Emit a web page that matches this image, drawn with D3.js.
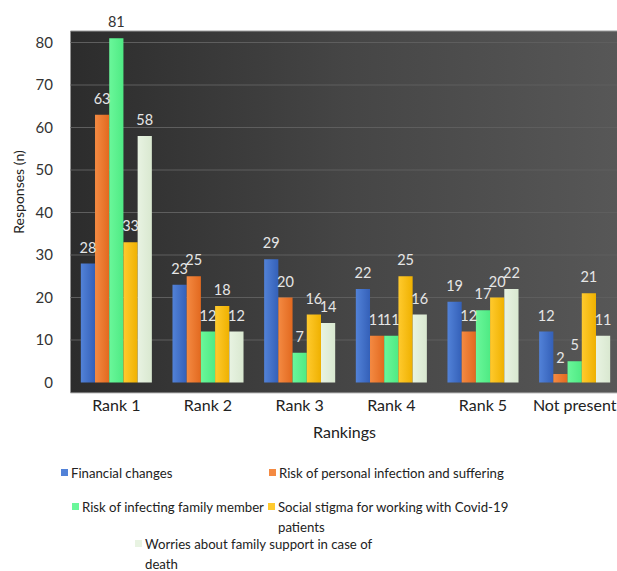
<!DOCTYPE html>
<html>
<head>
<meta charset="utf-8">
<script src="https://cdn.jsdelivr.net/npm/d3@7"></script>
<style>
  body { margin: 0; background: #fff; }
  svg { display: block; font-family: Lato, "Open Sans", sans-serif; }
</style>
</head>
<body>
<div id="chart-container"></div>
<script>
// data
const categories = ["Rank 1", "Rank 2", "Rank 3", "Rank 4", "Rank 5", "Not present"];
const seriesNames = [
  "Financial changes",
  "Risk of personal infection and suffering",
  "Risk of infecting family member",
  "Social stigma for working with Covid-19 patients",
  "Worries about family support in case of death"
];
const financial = [28, 23, 29, 22, 19, 12];
const personalInfection = [63, 25, 20, 11, 12, 2];
const infectingFamily = [81, 12, 7, 11, 17, 5];
const socialStigma = [33, 18, 16, 25, 20, 21];
const familySupport = [58, 12, 14, 16, 22, 11];
const yTicks = [0, 10, 20, 30, 40, 50, 60, 70, 80];

const seriesValues = [financial, personalInfection, infectingFamily, socialStigma, familySupport];
const colors = [
  ["#5282d8", "#3460b8"],
  ["#f48a42", "#e2691f"],
  ["#6af79a", "#4fea84"],
  ["#ffca2e", "#efb100"],
  ["#e8f3e2", "#d9e8d0"]
];

const width = 617, height = 571;
const plot = { left: 70.5, right: 617, top: 31, bottom: 393 };

const svg = d3.select("#chart-container")
  .append("svg")
  .attr("width", width)
  .attr("height", height);

const defs = svg.append("defs");

// plot background gradient (dark left, lighter right)
const bg = defs.append("linearGradient").attr("id", "bg").attr("x1", 0).attr("x2", 1).attr("y1", 0).attr("y2", 0);
bg.append("stop").attr("offset", 0).attr("stop-color", "#2c2c2c");
bg.append("stop").attr("offset", 0.5).attr("stop-color", "#454545");
bg.append("stop").attr("offset", 1).attr("stop-color", "#575757");

colors.forEach((c, i) => {
  const g = defs.append("linearGradient").attr("id", "bar" + i).attr("x1", 0).attr("x2", 1).attr("y1", 0).attr("y2", 0);
  g.append("stop").attr("offset", 0).attr("stop-color", c[0]);
  g.append("stop").attr("offset", 1).attr("stop-color", c[1]);
});

svg.append("rect")
  .attr("x", plot.left)
  .attr("y", plot.top)
  .attr("width", plot.right - plot.left)
  .attr("height", plot.bottom - plot.top)
  .attr("fill", "url(#bg)");

svg.append("line")
  .attr("x1", plot.left).attr("x2", plot.right)
  .attr("y1", plot.top).attr("y2", plot.top)
  .attr("stroke", "#9a9a9a").attr("stroke-width", 1);
svg.append("line")
  .attr("x1", plot.left).attr("x2", plot.right)
  .attr("y1", plot.bottom).attr("y2", plot.bottom)
  .attr("stroke", "#bdbdbd").attr("stroke-width", 1);

// scales
const x0 = d3.scaleBand()
  .domain(categories)
  .range([70.5, 620.5])
  .paddingInner(0.225)
  .paddingOuter(0.1125);

const x1 = d3.scaleBand()
  .domain(d3.range(seriesNames.length))
  .range([0, x0.bandwidth()]);

const y = d3.scaleLinear()
  .domain([0, 80])
  .range([382.5, 42.5]);

// gridlines
svg.append("g")
  .selectAll("line")
  .data(yTicks.filter(t => t > 0))
  .join("line")
  .attr("x1", plot.left)
  .attr("x2", plot.right)
  .attr("y1", d => y(d))
  .attr("y2", d => y(d))
  .attr("stroke", "#5e5e5e")
  .attr("stroke-width", 1.2);

// y axis
const yAxisG = svg.append("g")
  .attr("transform", "translate(63,0)")
  .call(d3.axisLeft(y).tickValues(yTicks).tickSize(0).tickPadding(10));
yAxisG.select(".domain").remove();
yAxisG.selectAll("text")
  .attr("font-size", 15)
  .attr("font-family", "Lato, sans-serif")
  .attr("fill", "#333");

svg.append("text")
  .attr("transform", "translate(24,192) rotate(-90)")
  .attr("text-anchor", "middle")
  .attr("font-size", 14)
  .attr("fill", "#222")
  .text("Responses (n)");

// x axis
const xAxisG = svg.append("g")
  .attr("transform", `translate(0, ${plot.bottom})`)
  .call(d3.axisBottom(x0).tickSize(0).tickPadding(0));
xAxisG.select(".domain").remove();
xAxisG.selectAll("text")
  .attr("y", 18)
  .attr("dy", null)
  .attr("font-size", 16)
  .attr("font-family", "Lato, sans-serif")
  .attr("fill", "#222");

svg.append("text")
  .attr("x", 344.5)
  .attr("y", 438)
  .attr("text-anchor", "middle")
  .attr("font-size", 16)
  .attr("fill", "#222")
  .text("Rankings");

// bars
const groups = svg.append("g")
  .selectAll("g")
  .data(categories)
  .join("g")
  .attr("transform", d => `translate(${x0(d)},0)`);

groups.selectAll("rect")
  .data((cat, ci) => seriesValues.map((vals, si) => ({ si, value: vals[ci] })))
  .join("rect")
  .attr("x", d => x1(d.si))
  .attr("y", d => y(d.value))
  .attr("width", x1.bandwidth())
  .attr("height", d => y(0) - y(d.value))
  .attr("fill", d => `url(#bar${d.si})`);

groups.selectAll("text")
  .data((cat, ci) => seriesValues.map((vals, si) => ({ si, value: vals[ci] })))
  .join("text")
  .attr("x", d => x1(d.si) + x1.bandwidth() / 2)
  .attr("y", d => y(d.value) - 11)
  .attr("text-anchor", "middle")
  .attr("font-size", 14.5)
  // labels above the dark plot area are drawn dark
  .attr("fill", d => (y(d.value) - 11 < plot.top ? "#333" : "#e6e6e6"))
  .text(d => d.value);

// legend
const legendItems = [
  { x: 61, y: 473, lines: ["Financial changes"] },
  { x: 269, y: 473, lines: ["Risk of personal infection and suffering"] },
  { x: 72, y: 507, lines: ["Risk of infecting family member"] },
  { x: 268, y: 507, lines: ["Social stigma for working with Covid-19", "patients"] },
  { x: 135, y: 544, lines: ["Worries about family support in case of", "death"] }
];

const legend = svg.append("g")
  .selectAll("g")
  .data(legendItems)
  .join("g")
  .attr("transform", d => `translate(${d.x},${d.y})`);

legend.append("rect")
  .attr("x", 0)
  .attr("y", -4)
  .attr("width", 7)
  .attr("height", 7)
  .attr("fill", (d, i) => colors[i][0]);

legend.each(function (d) {
  const t = d3.select(this).append("text")
    .attr("x", 10)
    .attr("y", 5)
    .attr("font-size", 13.2)
    .attr("fill", "#222");
  d.lines.forEach((line, li) => {
    t.append("tspan")
      .attr("x", 10)
      .attr("dy", li === 0 ? 0 : 20)
      .text(line);
  });
});
</script>
</body>
</html>
